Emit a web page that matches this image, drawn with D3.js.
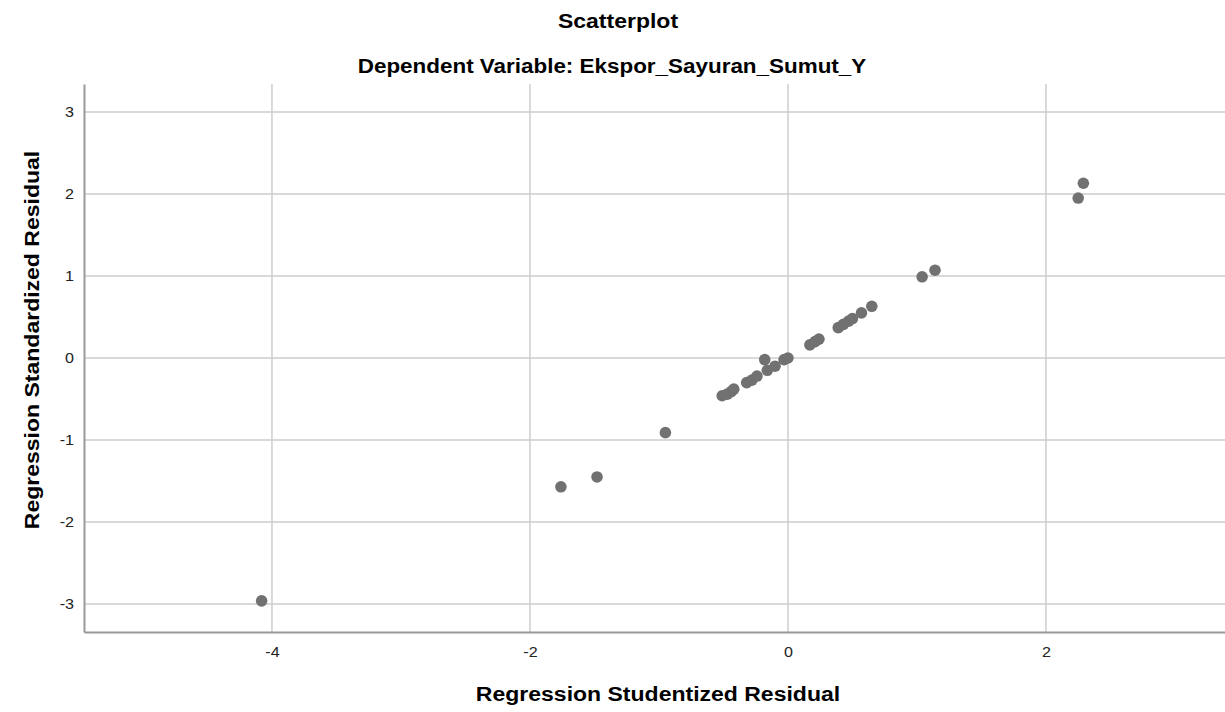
<!DOCTYPE html>
<html>
<head>
<meta charset="utf-8">
<script src="https://cdn.jsdelivr.net/npm/d3@7"></script>
<style>
  body { margin: 0; background: #fff; }
  text { font-family: "Liberation Sans", Arial, sans-serif; }
</style>
</head>
<body>
<svg id="root"></svg>
<script>
// studentized residual (x) vs standardized residual (y)
const studentized = [
  -4.08, -1.76, -1.48, -0.95, -0.51, -0.47, -0.44, -0.42, -0.32, -0.28,
  -0.24, -0.18, -0.16, -0.10, -0.03, 0.00, 0.17, 0.21, 0.24, 0.39,
  0.43, 0.47, 0.50, 0.57, 0.65, 1.04, 1.14, 2.25, 2.29
];
const standardized = [
  -2.96, -1.57, -1.45, -0.91, -0.46, -0.44, -0.41, -0.38, -0.30, -0.27,
  -0.22, -0.02, -0.15, -0.10, -0.02, 0.00, 0.16, 0.20, 0.23, 0.37,
  0.41, 0.45, 0.48, 0.55, 0.63, 0.99, 1.07, 1.95, 2.13
];
const xTicks = [-4, -2, 0, 2];
const yTicks = [-3, -2, -1, 0, 1, 2, 3];

const width = 1225, height = 712;
const margin = { top: 84, right: 0, bottom: 80, left: 84 };
const stretch = 1.15; // the SPSS export text is a bit wider than Arial

const svg = d3.select("#root").attr("width", width).attr("height", height);

const x = d3.scaleLinear().domain([-5.457, 3.388]).range([margin.left, width - margin.right]);
const y = d3.scaleLinear().domain([-3.34, 3.34]).range([height - margin.bottom, margin.top]);

const widen = (sel) =>
  sel.each(function () {
    const w = this.getComputedTextLength();
    d3.select(this).attr("textLength", w * stretch).attr("lengthAdjust", "spacingAndGlyphs");
  });

// grid
svg.append("g")
  .selectAll("line")
  .data(yTicks)
  .join("line")
  .attr("x1", margin.left).attr("x2", width - margin.right)
  .attr("y1", (d) => y(d)).attr("y2", (d) => y(d))
  .attr("stroke", "#cdcdcd").attr("stroke-width", 1.5);

svg.append("g")
  .selectAll("line")
  .data(xTicks)
  .join("line")
  .attr("x1", (d) => x(d)).attr("x2", (d) => x(d))
  .attr("y1", margin.top).attr("y2", height - margin.bottom)
  .attr("stroke", "#cdcdcd").attr("stroke-width", 1.5);

// axes
const fmt = (d) => String(d);
const xAxis = svg.append("g")
  .attr("transform", `translate(0,${height - margin.bottom})`)
  .call(d3.axisBottom(x).tickValues(xTicks).tickSize(0).tickPadding(15).tickFormat(fmt));
const yAxis = svg.append("g")
  .attr("transform", `translate(${margin.left},0)`)
  .call(d3.axisLeft(y).tickValues(yTicks).tickSize(0).tickPadding(10).tickFormat(fmt));

[xAxis, yAxis].forEach((g) => {
  g.select(".domain").attr("stroke", "#999").attr("stroke-width", 2);
  g.selectAll("text")
    .attr("fill", "#222")
    .style("font-size", "14px")
    .style("font-family", "'Liberation Sans', Arial, sans-serif")
    .call(widen);
});

// points
svg.append("g")
  .selectAll("circle")
  .data(studentized.map((d, i) => ({ sx: d, sy: standardized[i] })))
  .join("circle")
  .attr("cx", (d) => x(d.sx))
  .attr("cy", (d) => y(d.sy))
  .attr("r", 5.8)
  .attr("fill", "#717171");

// titles
svg.append("text")
  .attr("x", 618).attr("y", 28)
  .attr("text-anchor", "middle")
  .style("font-size", "20px").style("font-weight", "bold")
  .text("Scatterplot")
  .call(widen);
svg.append("text")
  .attr("x", 612).attr("y", 73)
  .attr("text-anchor", "middle")
  .style("font-size", "19.5px").style("font-weight", "bold")
  .text("Dependent Variable: Ekspor_Sayuran_Sumut_Y")
  .call(widen);

svg.append("text")
  .attr("x", 658).attr("y", 701)
  .attr("text-anchor", "middle")
  .style("font-size", "20px").style("font-weight", "bold")
  .text("Regression Studentized Residual")
  .call(widen);

svg.append("text")
  .attr("transform", `translate(39,340) rotate(-90)`)
  .attr("text-anchor", "middle")
  .style("font-size", "20px").style("font-weight", "bold")
  .text("Regression Standardized Residual")
  .call(widen);
</script>
</body>
</html>
